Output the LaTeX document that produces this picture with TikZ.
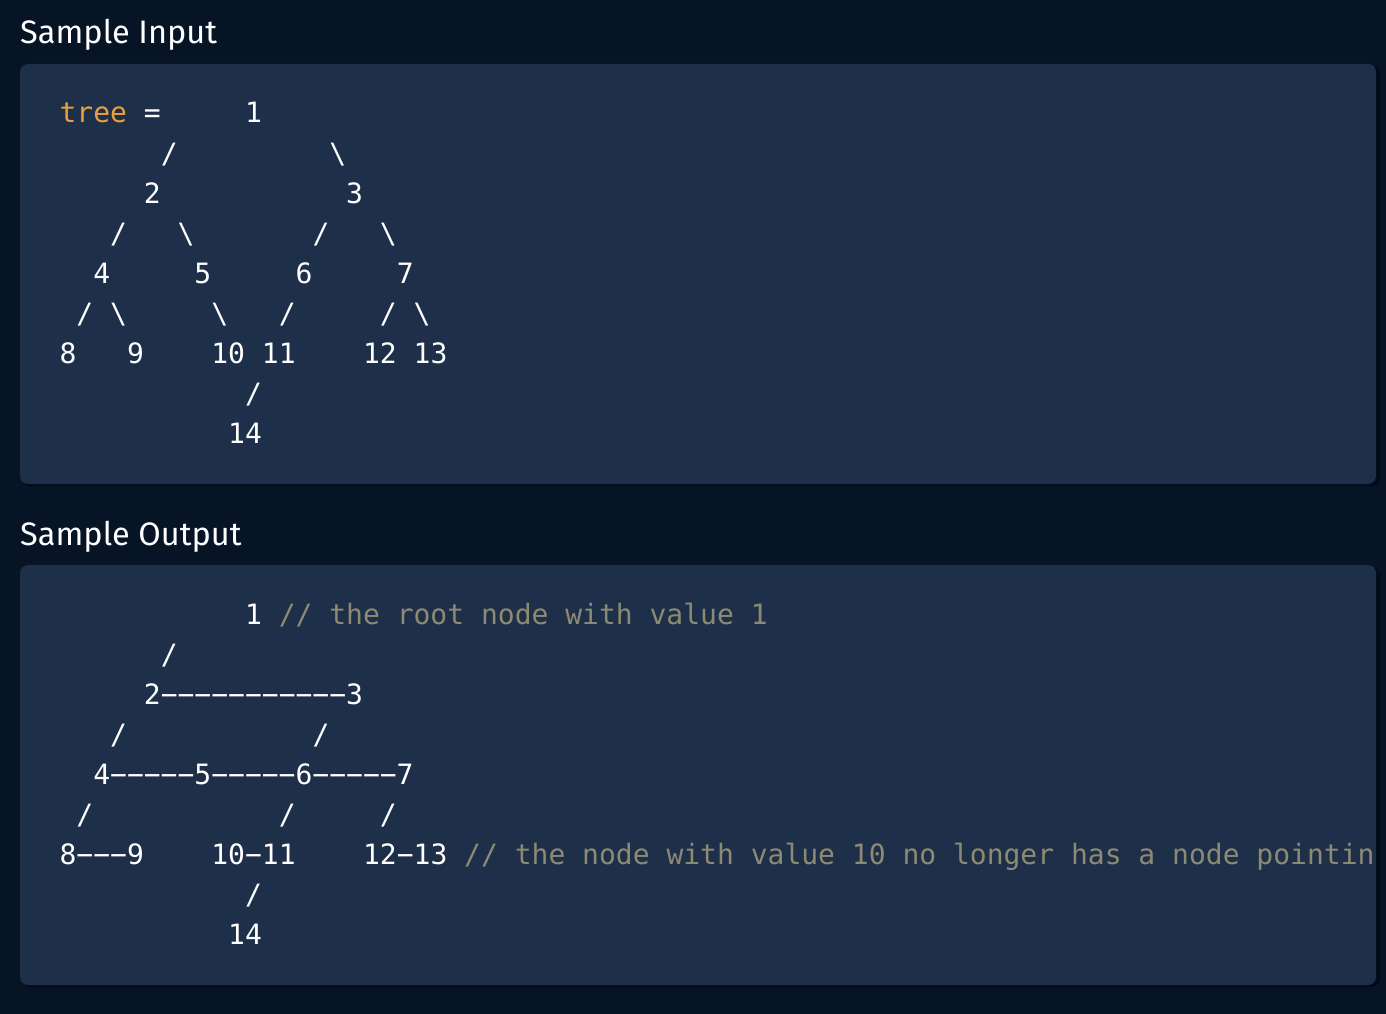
\documentclass[tikz,border=0pt]{standalone}
\usepackage{fontspec}
\setmainfont{Fira Sans}
\newfontfamily\codefont{DejaVu Sans Mono}
\definecolor{bg}{HTML}{061426}
\definecolor{panel}{HTML}{1E2F49}
\definecolor{shadowc}{HTML}{030B16}
\definecolor{kw}{HTML}{E8A03E}
\definecolor{cmt}{HTML}{8C8A72}
\tikzset{
  code/.style={anchor=base west, inner sep=0pt, outer sep=0pt, text=white, font=\codefont\fontsize{28}{28}\selectfont},
  header/.style={anchor=base west, inner sep=0pt, text=white, font=\fontsize{32.5}{32.5}\selectfont},
  panelbox/.style={fill=panel, rounded corners=8pt},
  shadowbox/.style={fill=shadowc, rounded corners=8pt}
}
\newcommand{\tok}[5][]{\node[code,#1] (#2) at ({59.6+#4*16.86},#3) {#5};}
\begin{document}
\begin{tikzpicture}[x=1pt,y=-1pt]
\fill[bg] (0,0) rectangle (1386,1014);
\useasboundingbox (0,0) rectangle (1386,1014);
% headers
\node[header] (h1) at (20,44) {Sample Input};
\node[header] (h2) at (20,545) {Sample Output};
% panels
\fill[shadowbox] (22,66) rectangle (1380,486);
\fill[panelbox] (20,64) rectangle (1376,484);
\fill[shadowbox] (22,567) rectangle (1380,987);
\fill[panelbox] (20,565) rectangle (1376,985);
% input
\tok[text=kw]{i1a}{123}{0}{tree}
\tok{i1b}{123}{5}{=}
\tok{i1c}{123}{11}{1}
\tok{i2a}{163}{6}{/}
\tok{i2b}{163}{16}{\textbackslash}
\tok{i3a}{203}{5}{2}
\tok{i3b}{203}{17}{3}
\tok{i4a}{243}{3}{/}
\tok{i4b}{243}{7}{\textbackslash}
\tok{i4c}{243}{15}{/}
\tok{i4d}{243}{19}{\textbackslash}
\tok{i5a}{283}{2}{4}
\tok{i5b}{283}{8}{5}
\tok{i5c}{283}{14}{6}
\tok{i5d}{283}{20}{7}
\tok{i6a}{323}{1}{/}
\tok{i6b}{323}{3}{\textbackslash}
\tok{i6c}{323}{9}{\textbackslash}
\tok{i6d}{323}{13}{/}
\tok{i6e}{323}{19}{/}
\tok{i6f}{323}{21}{\textbackslash}
\tok{i7a}{363}{0}{8}
\tok{i7b}{363}{4}{9}
\tok{i7c}{363}{9}{10}
\tok{i7d}{363}{12}{11}
\tok{i7e}{363}{18}{12}
\tok{i7f}{363}{21}{13}
\tok{i8a}{403}{11}{/}
\tok{i9a}{443}{10}{14}
% output
\tok{o1a}{624}{11}{1}
\tok[text=cmt]{o1b}{624}{13}{// the root node with value 1}
\tok{o2a}{664}{6}{/}
\tok{o3a}{704}{5}{2−−−−−−−−−−−3}
\tok{o4a}{744}{3}{/}
\tok{o4b}{744}{15}{/}
\tok{o5a}{784}{2}{4−−−−−5−−−−−6−−−−−7}
\tok{o6a}{824}{1}{/}
\tok{o6b}{824}{13}{/}
\tok{o6c}{824}{19}{/}
\tok{o7a}{864}{0}{8−−−9}
\tok{o7b}{864}{9}{10−11}
\tok{o7c}{864}{18}{12−13}
\tok[text=cmt]{o7d}{864}{24}{// the node with value 10 no longer has a node pointin}
\tok{o8a}{904}{11}{/}
\tok{o9a}{944}{10}{14}
\end{tikzpicture}
\end{document}
